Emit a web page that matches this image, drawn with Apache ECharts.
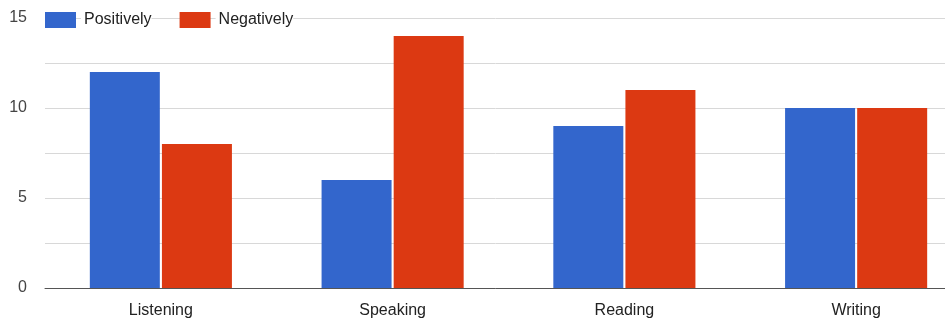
<!DOCTYPE html>
<html>
<head>
<meta charset="utf-8">
<script src="https://cdn.jsdelivr.net/npm/echarts@6/dist/echarts.min.js"></script>
<style>
  html, body { margin: 0; padding: 0; background: #fff; }
  #chart { width: 945px; height: 322px; }
</style>
</head>
<body>
<div id="chart"></div>
<script>
// Skill areas and how many respondents rated each one
const categories = ['Listening', 'Speaking', 'Reading', 'Writing'];
const positively = [12, 6, 9, 10];
const negatively = [8, 14, 11, 10];
const seriesNames = ['Positively', 'Negatively'];
const yTicks = [0, 5, 10, 15];

const FONT = '"Liberation Sans", Arial, sans-serif';
const chart = echarts.init(document.getElementById('chart'), null, { renderer: 'canvas' });

chart.setOption({
  animation: false,
  color: ['#3366cc', '#dc3912'],
  textStyle: { fontFamily: FONT },
  legend: {
    data: seriesNames,
    left: 40,
    top: 7,
    itemWidth: 31,
    itemHeight: 16,
    itemGap: 28,
    icon: 'rect',
    textStyle: {
      fontFamily: FONT,
      fontSize: 16,
      color: '#222',
      lineHeight: 16,
      backgroundColor: '#fff',
      padding: [0, 0, 0, 3]
    }
  },
  // the plot area runs past the right edge of the canvas
  grid: { left: 45, top: 18, right: -27, bottom: 34, containLabel: false, outerBoundsMode: 'none' },
  xAxis: {
    type: 'category',
    data: categories,
    axisTick: { show: false },
    axisLine: { lineStyle: { color: '#555', width: 1 } },
    axisLabel: { fontFamily: FONT, fontSize: 16, color: '#222', margin: 15 }
  },
  yAxis: {
    type: 'value',
    min: 0,
    max: 15,
    interval: 2.5,
    axisLine: { show: false },
    axisTick: { show: false },
    splitLine: { lineStyle: { color: '#d8d8d8', width: 1 } },
    axisLabel: {
      fontFamily: FONT,
      fontSize: 16,
      color: '#444',
      margin: 18,
      padding: [4, 0, 0, 0],
      formatter: v => (yTicks.indexOf(v) >= 0 ? String(v) : '')
    }
  },
  series: [
    { name: seriesNames[0], type: 'bar', data: positively, barWidth: 70, barGap: '3%' },
    { name: seriesNames[1], type: 'bar', data: negatively, barWidth: 70, barGap: '3%' }
  ]
});
</script>
</body>
</html>
